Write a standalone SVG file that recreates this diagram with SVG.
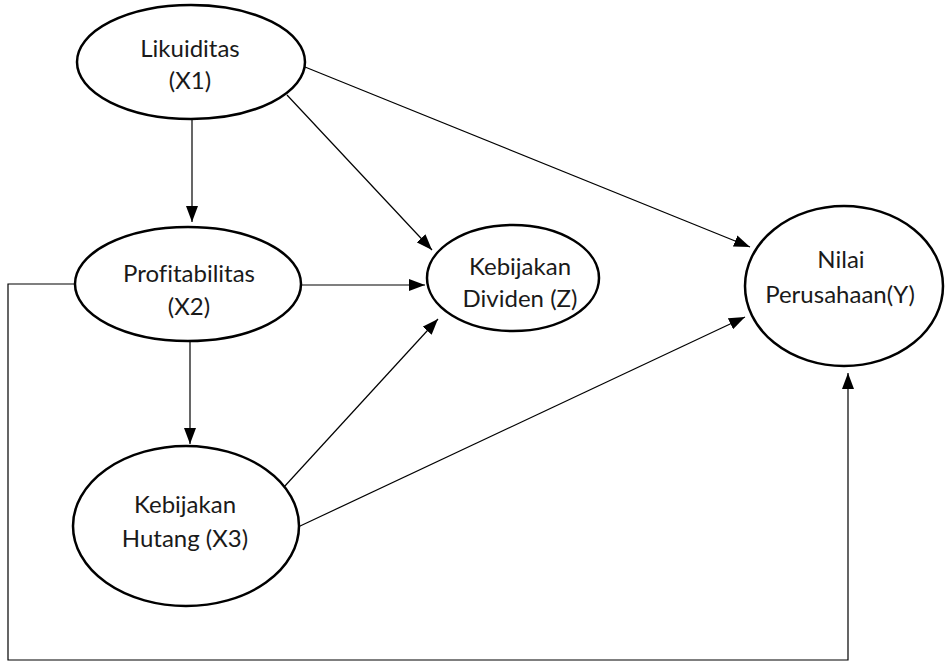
<svg xmlns="http://www.w3.org/2000/svg" width="951" height="665" viewBox="0 0 951 665">
<style>
.node ellipse{fill:#fff;stroke:#000;stroke-width:2.5}
.node text{font-family:Lato,"Open Sans","Liberation Sans",sans-serif;font-size:24px;fill:#1a1a1a;text-anchor:middle;font-variant-ligatures:none}
.edges line,.edges polyline{stroke:#000;stroke-width:1.2;fill:none}
</style>
<defs>
<marker id="ah" viewBox="0 0 16 12" refX="16" refY="6" markerWidth="16" markerHeight="12" markerUnits="userSpaceOnUse" orient="auto">
<path d="M0,0 L16,6 L0,12 Z" fill="#000"/>
</marker>
</defs>
<rect width="951" height="665" fill="#fff"/>
<g class="edges">
<line x1="192" y1="120" x2="192" y2="222" marker-end="url(#ah)"/>
<line x1="190" y1="341" x2="190" y2="444" marker-end="url(#ah)"/>
<line x1="287" y1="95" x2="432" y2="250" marker-end="url(#ah)"/>
<line x1="305" y1="67" x2="750" y2="247" marker-end="url(#ah)"/>
<line x1="301" y1="285" x2="425" y2="285" marker-end="url(#ah)"/>
<line x1="284" y1="487" x2="438" y2="319" marker-end="url(#ah)"/>
<line x1="298" y1="527" x2="745" y2="317" marker-end="url(#ah)"/>
<polyline points="75,284 8,284 8,660 848,660 848,373" marker-end="url(#ah)"/>
</g>
<g id="likuiditas" class="node">
<ellipse cx="191" cy="62" rx="114" ry="57"/>
<text x="190" y="57">Likuiditas</text>
<text x="190" y="89">(X1)</text>
</g>
<g id="profitabilitas" class="node">
<ellipse cx="188" cy="284" rx="113" ry="57"/>
<text x="189" y="282">Profitabilitas</text>
<text x="189" y="315">(X2)</text>
</g>
<g id="hutang" class="node">
<ellipse cx="186" cy="526" rx="113" ry="80"/>
<text x="185" y="513">Kebijakan</text>
<text x="185" y="547">Hutang (X3)</text>
</g>
<g id="dividen" class="node">
<ellipse cx="513" cy="278" rx="86" ry="53"/>
<text x="520" y="275">Kebijakan</text>
<text x="520" y="307">Dividen (Z)</text>
</g>
<g id="nilai" class="node">
<ellipse cx="844" cy="286" rx="99" ry="80"/>
<text x="841" y="268">Nilai</text>
<text x="840" y="303">Perusahaan(Y)</text>
</g>
</svg>
